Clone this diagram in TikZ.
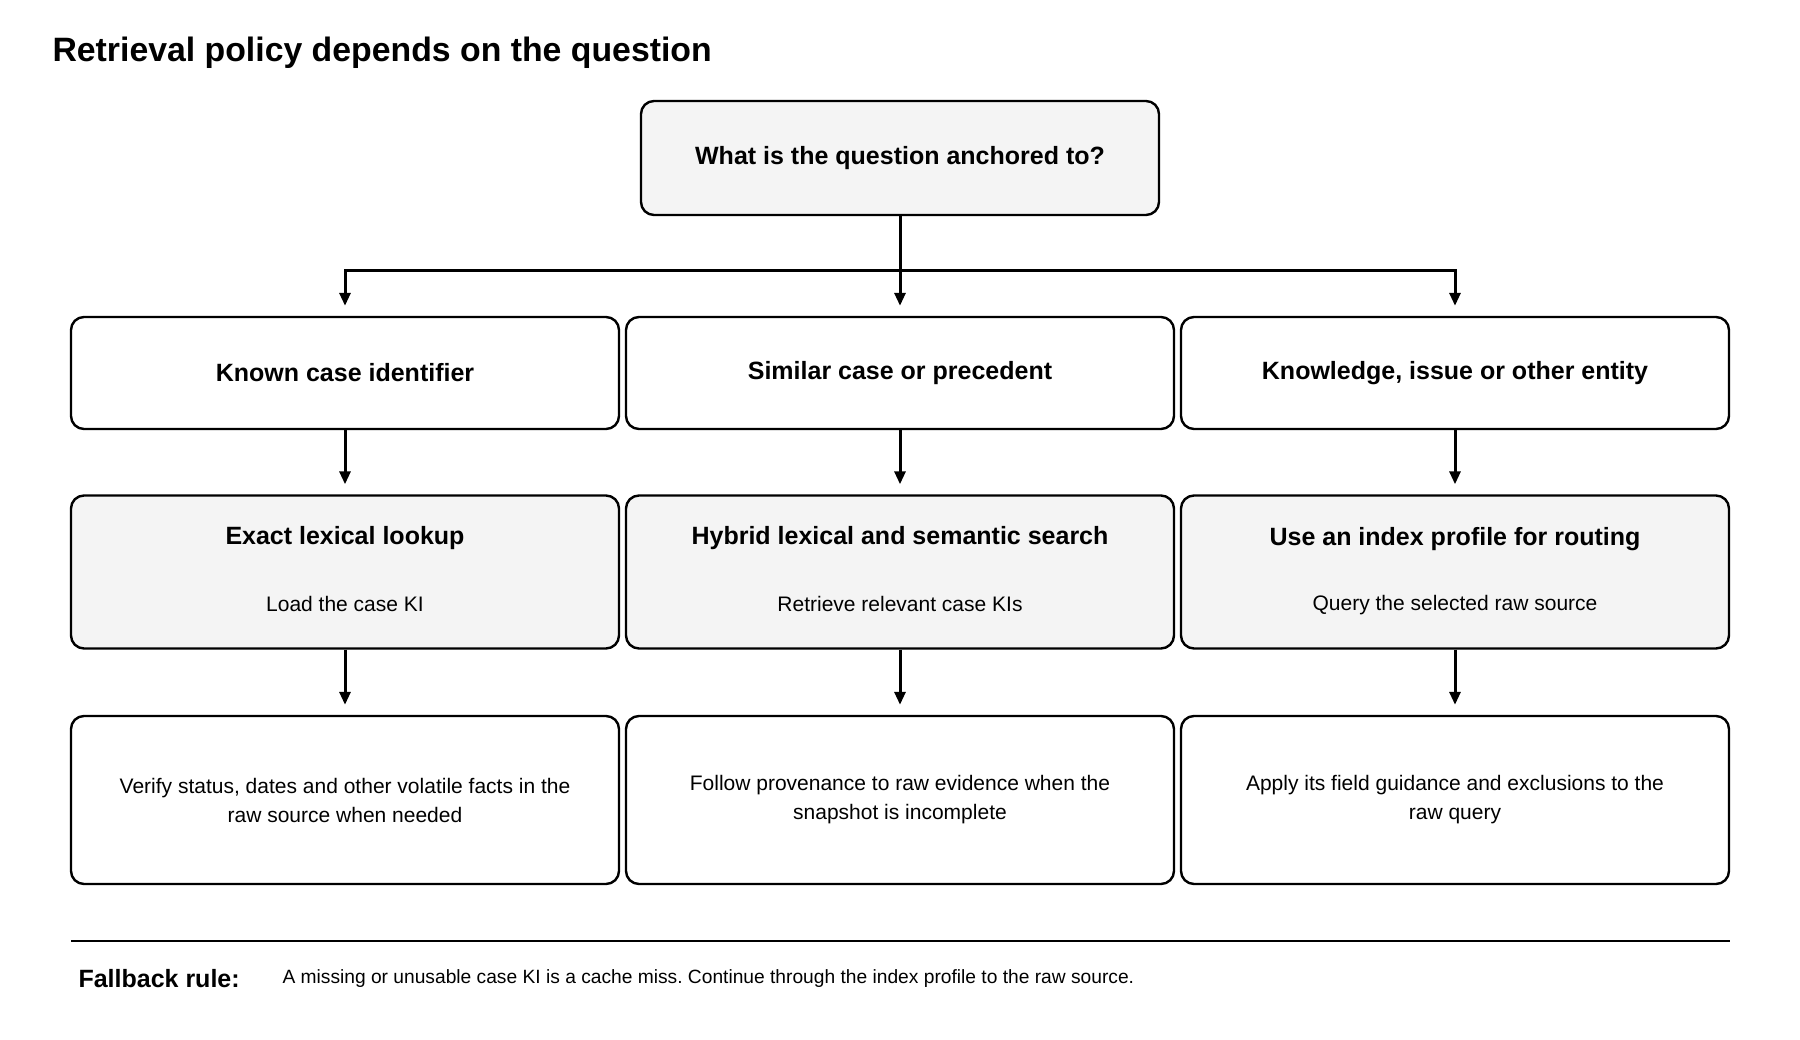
\documentclass[tikz,border=0pt]{standalone}
\usepackage{fontspec}
\setmainfont{Liberation Sans}
\usetikzlibrary{arrows.meta}

\definecolor{boxgrey}{HTML}{F4F4F4}
\newcommand\lowpad{\rule[-7pt]{0pt}{7pt}}

\tikzset{
    box/.style={draw=black, line width=2.4pt, rounded corners=13pt, align=center, inner sep=0pt},
    qbox/.style={box, fill=boxgrey, minimum width=518pt, minimum height=114pt, font=\fontsize{25}{30}\selectfont\bfseries},
    anchorbox/.style={box, fill=white, minimum width=548pt, minimum height=112pt, font=\fontsize{25}{30}\selectfont\bfseries},
    policybox/.style={box, fill=boxgrey, minimum width=548pt, minimum height=153pt, font=\fontsize{21}{29}\selectfont},
    notebox/.style={box, fill=white, minimum width=548pt, minimum height=168pt, font=\fontsize{21}{29}\selectfont},
    link/.style={line width=3pt, -{Triangle[length=13pt,width=11pt]}, shorten >=10pt},
    bar/.style={line width=3pt},
}

\begin{document}
\frenchspacing
\begin{tikzpicture}[x=1pt,y=-1pt]
    \useasboundingbox (0,0) rectangle (1800,1040);

    \node[anchor=west, font=\fontsize{33.8}{40}\selectfont\bfseries] (title) at (49,53) {Retrieval policy depends on the question};

    \node[qbox] (q) at (900,158) {What is the question anchored to?};

    % anchors
    \node[anchorbox] (k1) at (345,373) {Known case identifier};
    \node[anchorbox] (k2) at (900,373) {Similar case or precedent};
    \node[anchorbox] (k3) at (1455,373) {Knowledge, issue or other entity};

    % retrieval policy
    \node[policybox] (s1) at (345,572) {{\fontsize{25}{30}\selectfont\bfseries Exact lexical lookup}\\[38pt]Load the case KI\lowpad};
    \node[policybox] (s2) at (900,572) {{\fontsize{25}{30}\selectfont\bfseries Hybrid lexical and semantic search}\\[38pt]Retrieve relevant case KIs\lowpad};
    \node[policybox] (s3) at (1455,572) {{\fontsize{25}{30}\selectfont\bfseries Use an index profile for routing}\\[36pt]Query the selected raw source\lowpad};

    % follow up
    \node[notebox] (v1) at (345,800) {Verify status, dates and other volatile facts in the\\raw source when needed};
    \node[notebox] (v2) at (900,800) {Follow provenance to raw evidence when the\\snapshot is incomplete};
    \node[notebox] (v3) at (1455,800) {Apply its field guidance and exclusions to the\\raw query};

    \coordinate (fork) at (900,271);
    \draw[bar] (q) -- (fork);
    \draw[link] (fork) -| (k1);
    \draw[link] (fork) -- (k2);
    \draw[link] (fork) -| (k3);

    \foreach \i in {1,2,3} {
        \draw[link] (k\i) -- (s\i);
        \draw[link] (s\i) -- (v\i);
    }

    \coordinate (sepl) at (71,941);
    \coordinate (sepr) at (1730,941);
    \draw[line width=2.4pt] (sepl) -- (sepr);

    \node[anchor=west, font=\fontsize{25}{30}\selectfont\bfseries] (fb) at (75,979) {Fallback rule:};
    \node[anchor=west, font=\fontsize{19.2}{23}\selectfont] (fbtext) at (279,979) {A missing or unusable case KI is a cache miss. Continue through the index profile to the raw source.};
\end{tikzpicture}
\end{document}
